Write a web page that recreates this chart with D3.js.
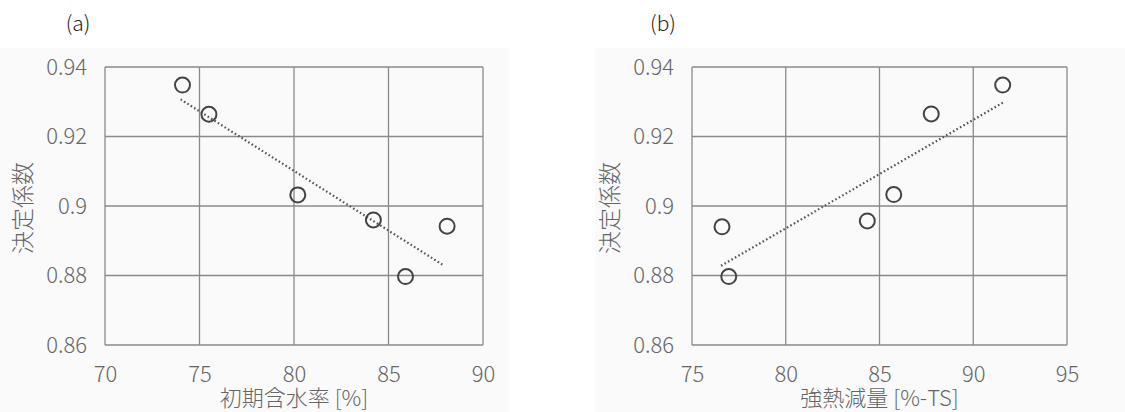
<!DOCTYPE html>
<html>
<head>
<meta charset="utf-8">
<script src="https://cdn.jsdelivr.net/npm/d3@7"></script>
<style>
  html, body { margin: 0; padding: 0; background: #ffffff; }
  svg text { font-family: "Noto Sans CJK JP", "Noto Sans", sans-serif; }
</style>
</head>
<body>
<svg id="chart" width="1125" height="412"></svg>
<script>
// Coefficient of determination vs. initial moisture content (a) and ignition loss (b)
const yTicks = [0.86, 0.88, 0.9, 0.92, 0.94];
const yTickLabels = ["0.86", "0.88", "0.9", "0.92", "0.94"];
const yTitle = "決定係数";

const moistureTicks = [70, 75, 80, 85, 90];
const moistureX = [74.1, 75.5, 80.2, 84.2, 85.9, 88.1];
const moistureR2 = [0.9348, 0.9264, 0.9032, 0.896, 0.8797, 0.8942];
const moistureTrendX = [74.0, 87.95];
const moistureTrendY = [0.9307, 0.8828];

const ignitionTicks = [75, 80, 85, 90, 95];
const ignitionX = [76.6, 76.96, 84.35, 85.76, 87.76, 91.57];
const ignitionR2 = [0.894, 0.8797, 0.8957, 0.9033, 0.9265, 0.9348];
const ignitionTrendX = [76.55, 91.6];
const ignitionTrendY = [0.8828, 0.9298];

const panels = [
  { tag: "(a)", tagX: 78, bgX: 0, bgW: 509, left: 105, right: 483,
    xDomain: [70, 90], xTicks: moistureTicks, xs: moistureX, ys: moistureR2,
    tx: moistureTrendX, ty: moistureTrendY, xTitle: "初期含水率 [%]" },
  { tag: "(b)", tagX: 663, bgX: 595, bgW: 530, left: 692, right: 1067,
    xDomain: [75, 95], xTicks: ignitionTicks, xs: ignitionX, ys: ignitionR2,
    tx: ignitionTrendX, ty: ignitionTrendY, xTitle: "強熱減量 [%-TS]" }
];

const svg = d3.select("#chart");
const plotTop = 67, plotBottom = 345;
const gridColor = "#8a8a8a";
const labelColor = "#666666";
const fontStack = '"Noto Sans CJK JP", "Noto Sans", sans-serif';

panels.forEach(p => {
  const g = svg.append("g");

  g.append("rect")
    .attr("x", p.bgX).attr("y", 48)
    .attr("width", p.bgW).attr("height", 412 - 48)
    .attr("fill", "#fafafa");

  g.append("text")
    .attr("x", p.tagX).attr("y", 31)
    .attr("text-anchor", "middle")
    .attr("font-size", 21)
    .attr("font-weight", 300)
    .attr("fill", "#222")
    .text(p.tag);

  const x = d3.scaleLinear().domain(p.xDomain).range([p.left, p.right]);
  const y = d3.scaleLinear().domain([0.86, 0.94]).range([plotBottom, plotTop]);

  // gridlines
  g.append("g").selectAll("line").data(yTicks).join("line")
    .attr("x1", p.left).attr("x2", p.right)
    .attr("y1", d => y(d)).attr("y2", d => y(d))
    .attr("stroke", gridColor).attr("stroke-width", 1.3);
  g.append("g").selectAll("line").data(p.xTicks).join("line")
    .attr("x1", d => x(d)).attr("x2", d => x(d))
    .attr("y1", plotTop).attr("y2", plotBottom)
    .attr("stroke", gridColor).attr("stroke-width", 1.3);

  // y axis tick labels
  const yAxis = d3.axisLeft(y).tickValues(yTicks)
    .tickFormat((d, i) => yTickLabels[i]).tickSize(0).tickPadding(18);
  const ya = g.append("g").attr("transform", `translate(${p.left},0)`).call(yAxis);
  ya.select(".domain").remove();
  ya.selectAll("text").attr("font-size", 22).attr("font-weight", 300)
    .attr("fill", labelColor).style("font-family", fontStack);

  // x axis tick labels
  const xAxis = d3.axisBottom(x).tickValues(p.xTicks)
    .tickFormat(d3.format("d")).tickSize(0).tickPadding(21);
  const xa = g.append("g").attr("transform", `translate(0,${plotBottom})`).call(xAxis);
  xa.select(".domain").remove();
  xa.selectAll("text").attr("font-size", 22).attr("font-weight", 300)
    .attr("fill", labelColor).style("font-family", fontStack);

  // axis titles
  g.append("text")
    .attr("x", (p.left + p.right) / 2).attr("y", 406)
    .attr("text-anchor", "middle")
    .attr("font-size", 22).attr("font-weight", 300).attr("fill", labelColor)
    .text(p.xTitle);
  g.append("text")
    .attr("transform", `translate(${p.left - 74},${(plotTop + plotBottom) / 2 + 2}) rotate(-90)`)
    .attr("text-anchor", "middle")
    .attr("font-size", 23).attr("font-weight", 300).attr("fill", labelColor)
    .text(yTitle);

  // dotted trend line
  const trend = d3.line().x(d => x(d[0])).y(d => y(d[1]));
  g.append("path")
    .attr("d", trend(d3.zip(p.tx, p.ty)))
    .attr("fill", "none").attr("stroke", "#555")
    .attr("stroke-width", 2.2).attr("stroke-dasharray", "1.6,2.4");

  // markers
  g.append("g").selectAll("circle").data(d3.zip(p.xs, p.ys)).join("circle")
    .attr("cx", d => x(d[0])).attr("cy", d => y(d[1]))
    .attr("r", 7.5)
    .attr("fill", "none").attr("stroke", "#444").attr("stroke-width", 2);
});
</script>
</body>
</html>
